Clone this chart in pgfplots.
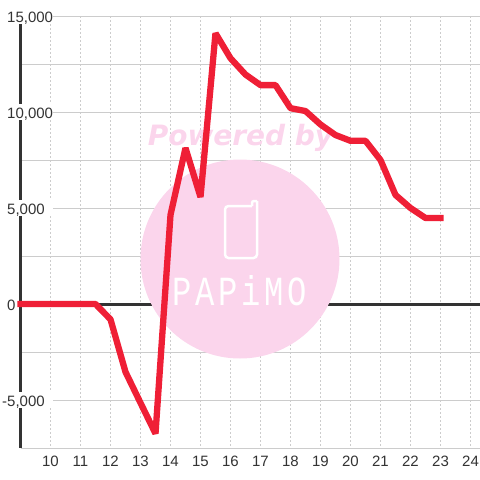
\documentclass[border=0pt]{standalone}
\usepackage{pgfplots}
\usepackage{graphicx}
\usepackage{fontspec}
\setmainfont{Liberation Sans}
\newfontfamily\wmfont{DejaVu Sans}
\newfontfamily\monofont[LetterSpace=12]{Liberation Mono}
\pgfplotsset{compat=1.18}
\definecolor{wm}{HTML}{FBD5EC}
\definecolor{redline}{HTML}{EF1F36}
\definecolor{dark}{HTML}{333333}
\definecolor{gridc}{HTML}{CCCCCC}
\newcommand\lab[1]{\rlap{\textcolor{white}{\rule[-2pt]{46pt}{16pt}}}#1}
\begin{document}
\begin{tikzpicture}
\path (0pt,0pt) rectangle (480pt,-480pt);
% watermark
\begin{scope}[x=1pt,y=-1pt]
\fill[wm] (240,259) circle (99.5pt);
\node[anchor=base,wm,font=\wmfont\bfseries\itshape\fontsize{28}{28}\selectfont,inner sep=0] at (240.5,145) {Powered by};
\draw[white,line width=2.5pt,rounded corners=3.5pt] (257,201) -- (257,258) -- (225,258) -- (225,206) -- (252,206);
\draw[white,line width=2.5pt,rounded corners=2pt] (252,206) -- (252,201) -- (257,201);
\node[anchor=north west,inner sep=0,white] at (172,275) {\resizebox{135pt}{30pt}{\monofont PAPiMO}};
\end{scope}
\begin{axis}[
  at={(0pt,-480pt)},anchor=south west,
  scale only axis,width=480pt,height=480pt,
  xmin=8.31667,xmax=24.31667,ymin=-9166.67,ymax=15833.33,
  axis line style={draw=none},
  major tick length=0pt,
  tick style={draw=none},
  set layers=standard,
  unbounded coords=jump,
  scaled y ticks=false,
  xtick={10,11,...,24},
  xticklabels={10,11,12,13,14,15,16,17,18,19,20,21,22,23,24},
  ytick={-5000,0,5000,10000,15000},
  yticklabels={\lab{\llap{-}5,000},\rule[-2pt]{0pt}{16pt}0,\lab{5,000},\lab{10,000},\lab{15,000}},
  tick label style={font=\fontsize{15}{15}\selectfont,text=dark,inner sep=0pt},
  xticklabel style={anchor=base,yshift=13.3pt},
  yticklabel style={anchor=base west,xshift=7pt,yshift=-6pt},
]
% vertical dashed grid
\addplot[on layer=axis background,gridc,line width=1pt,dash pattern=on 2pt off 2pt] coordinates {
(10,15000)(10,-7500)(nan,nan)(11,15000)(11,-7500)(nan,nan)(12,15000)(12,-7500)(nan,nan)
(13,15000)(13,-7500)(nan,nan)(14,15000)(14,-7500)(nan,nan)(15,15000)(15,-7500)(nan,nan)
(16,15000)(16,-7500)(nan,nan)(17,15000)(17,-7500)(nan,nan)(18,15000)(18,-7500)(nan,nan)
(19,15000)(19,-7500)(nan,nan)(20,15000)(20,-7500)(nan,nan)(21,15000)(21,-7500)(nan,nan)
(22,15000)(22,-7500)(nan,nan)(23,15000)(23,-7500)(nan,nan)(24,15000)(24,-7500)};
% horizontal grid
\addplot[on layer=axis background,gridc,line width=1pt] coordinates {
(9,15000)(24.4,15000)(nan,nan)(9,12500)(24.4,12500)(nan,nan)(9,10000)(24.4,10000)(nan,nan)
(9,7500)(24.4,7500)(nan,nan)(9,5000)(24.4,5000)(nan,nan)(9,2500)(24.4,2500)(nan,nan)
(9,-2500)(24.4,-2500)(nan,nan)(9,-5000)(24.4,-5000)(nan,nan)(9,-7500)(24.4,-7500)};
% axis lines
\addplot[on layer=axis background,dark,line width=3pt] coordinates {(9,15000)(9,-7500)};
\addplot[on layer=axis background,dark,line width=3pt] coordinates {(9,0)(24.4,0)};
% series
\addplot[redline,line width=6.3pt,line cap=rect,line join=bevel] coordinates {
(9,0)(9.5,0)(10,0)(10.5,0)(11,0)(11.5,0)(12,-800)(12.5,-3540)(13,-5150)(13.5,-6750)
(14,4640)(14.5,8125)(15,5570)(15.5,14100)(16,12800)(16.5,11950)(17,11400)(17.5,11400)
(18,10200)(18.5,10050)(19,9350)(19.5,8800)(20,8500)(20.5,8500)(21,7500)(21.5,5680)
(22,5000)(22.5,4480)(23,4480)};
\end{axis}
\end{tikzpicture}
\end{document}
